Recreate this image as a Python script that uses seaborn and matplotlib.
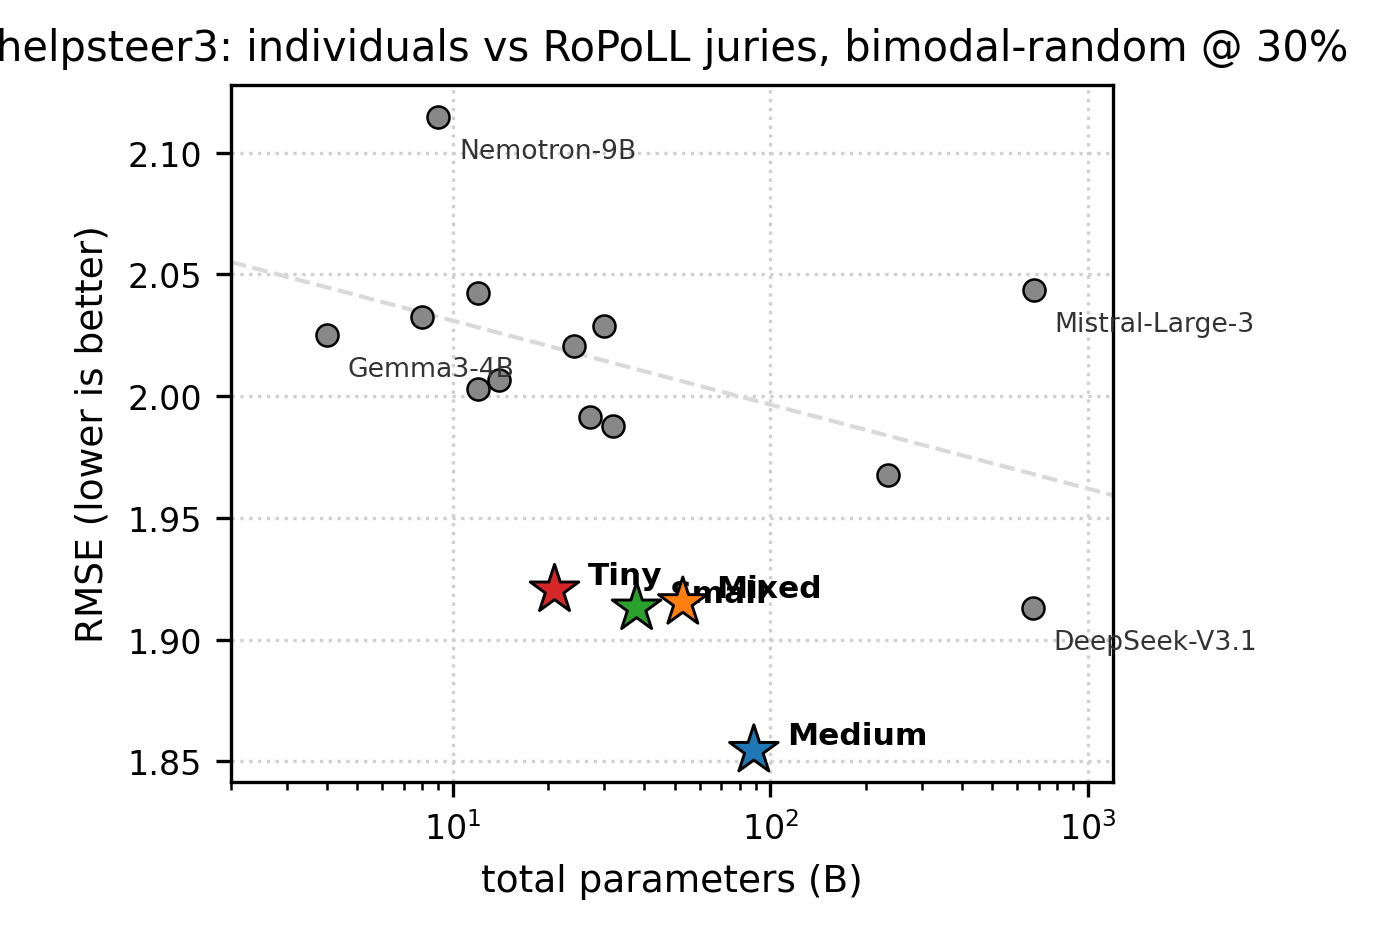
import numpy as np
import matplotlib
matplotlib.use("Agg")
import matplotlib.pyplot as plt
import seaborn as sns

# individual models (total params in B, RMSE)
ind_params = [9, 4, 8, 12, 12, 14, 24, 30, 27, 32, 235, 675, 671]
ind_rmse = [2.1148, 2.0250, 2.0325, 2.0423, 2.0028, 2.0065, 2.0205,
            2.0287, 1.9913, 1.9876, 1.9674, 2.0436, 1.9130]
ind_labels = ["Nemotron-9B", "Gemma3-4B", "", "", "", "", "", "", "", "", "",
              "Mistral-Large-3", "DeepSeek-V3.1"]

# RoPoLL juries
jury_names = ["Tiny", "Small", "Mixed", "Medium"]
jury_params = [20.9, 37.9, 53.0, 88.7]
jury_rmse = [1.9204, 1.9130, 1.9152, 1.8545]
jury_colors = ["#d62728", "#2ca02c", "#ff7f0e", "#1f77b4"]

fig, ax = plt.subplots(figsize=(4.6, 3.1133), dpi=300)
fig.subplots_adjust(left=0.1674, right=0.8065, bottom=0.1617, top=0.9079)

ax.set_xscale("log")
ax.set_xlim(2, 1200)

# trend line over individuals, y ~ log(x)
sns.regplot(x=np.array(ind_params, dtype=float), y=np.array(ind_rmse),
            logx=True, scatter=False, ci=None, truncate=False, ax=ax,
            line_kws=dict(color="#d9d9d9", ls="--", lw=1.0, zorder=1))

sns.scatterplot(x=ind_params, y=ind_rmse, color="#888888", edgecolor="black",
                linewidth=0.6, s=28, ax=ax, zorder=3)

sns.scatterplot(x=jury_params, y=jury_rmse, hue=jury_names,
                palette=dict(zip(jury_names, jury_colors)), marker="*",
                s=150, edgecolor="black", linewidth=0.7, legend=False,
                ax=ax, zorder=5)

for x, y, lab in zip(ind_params, ind_rmse, ind_labels):
    if lab:
        ax.annotate(lab, (x, y), xytext=(5, -5), textcoords="offset points",
                    ha="left", va="top", fontsize=6.4, color="0.2", zorder=4)

for x, y, lab in zip(jury_params, jury_rmse, jury_names):
    ax.annotate(lab, (x, y), xytext=(8, 0), textcoords="offset points",
                ha="left", va="bottom", fontsize=7.5, fontweight="bold",
                color="black", zorder=4)

ax.grid(True, which="major", ls=":", lw=0.8, color="#d0d0d0", zorder=0)
ax.set_axisbelow(True)
ax.tick_params(labelsize=8)
ax.set_xlabel("total parameters (B)", fontsize=9)
ax.set_ylabel("RMSE (lower is better)", fontsize=9)
ax.set_title("helpsteer3: individuals vs RoPoLL juries, bimodal-random @ 30%",
             fontsize=10)

fig.savefig("out.png", dpi=300)
